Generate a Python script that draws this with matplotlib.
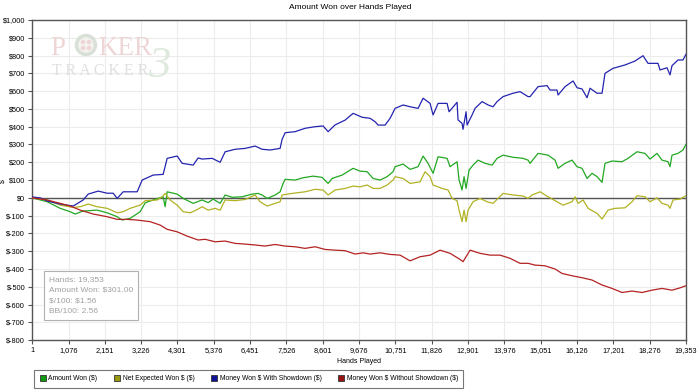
import matplotlib
matplotlib.use("Agg")
import matplotlib.pyplot as plt
import matplotlib.patches as patches
from matplotlib.ticker import FuncFormatter

plt.rcParams["text.parse_math"] = False
plt.rcParams["font.family"] = ["Liberation Sans", "DejaVu Sans"]

# values (hands played, dollars)
blue_hands = [1, 238, 445, 830, 1214, 1510, 1658, 1954, 2220, 2398, 2516, 2694, 3108, 3256,
              3581, 3877, 3996, 4292, 4440, 4765, 4913, 5031, 5327, 5564, 5712, 6008, 6304,
              6600, 6807, 7043, 7339, 7398, 7487, 7783, 8079, 8375, 8612, 8760, 8967, 9263,
              9500, 9766, 10003, 10150, 10239, 10446, 10594, 10742, 10979, 11186, 11423,
              11571, 11778, 11867, 12015, 12281, 12340, 12577, 12606, 12724, 12754, 12843,
              12873, 13021, 13109, 13317, 13494, 13642, 13761, 13938, 14234, 14441, 14678,
              14737, 14974, 15240, 15329, 15536, 15566, 15773, 16010, 16128, 16276, 16424,
              16513, 16720, 16868, 16956, 17193, 17548, 17844, 18081, 18229, 18525, 18584,
              18791, 18880, 18939, 19116, 19264, 19353]
blue_won = [5, 0, -18, -35, -46, -12, 21, 38, 26, 26, -3, 34, 34, 100,
            128, 132, 222, 235, 194, 184, 224, 218, 222, 200, 259, 273, 278,
            291, 273, 269, 278, 329, 366, 372, 391, 400, 404, 372, 410, 437,
            475, 453, 447, 428, 409, 409, 447, 503, 522, 512, 503,
            560, 531, 466, 531, 531, 484, 537, 438, 419, 385, 484,
            409, 466, 503, 541, 522, 512, 541, 569, 588, 597, 569,
            569, 625, 631, 606, 606, 578, 625, 657, 619, 612, 563,
            616, 588, 588, 700, 728, 747, 769, 799, 756, 756, 719,
            731, 691, 743, 775, 775, 807]

green_hands = [1, 445, 830, 1125, 1273, 1510, 1924, 2220, 2516, 2664, 2901, 3197, 3345,
               3581, 3729, 3877, 3936, 3996, 4292, 4469, 4765, 5031, 5209, 5357, 5564,
               5712, 5919, 6215, 6511, 6688, 6807, 6955, 7191, 7339, 7428, 7487, 7783,
               8020, 8316, 8582, 8760, 8878, 9174, 9500, 9707, 9914, 10091, 10298, 10505,
               10683, 10742, 10979, 11186, 11423, 11571, 11719, 11867, 12015, 12281, 12370,
               12577, 12636, 12724, 12784, 12843, 12932, 13050, 13198, 13405, 13613, 13761,
               13938, 14234, 14530, 14678, 14737, 14974, 15270, 15477, 15566, 15773, 15980,
               16128, 16276, 16424, 16572, 16720, 16868, 16956, 17163, 17459, 17637, 17903,
               18140, 18288, 18495, 18643, 18821, 18880, 18939, 19116, 19264, 19353]
green_won = [0, -22, -59, -78, -91, -74, -69, -84, -106, -125, -115, -78, -28,
             -12, -3, 6, -50, 34, 21, -3, -31, -12, -27, -7, -31,
             16, 3, 6, 21, 25, 16, -3, 16, 34, 81, 104, 100,
             113, 122, 115, 81, 109, 128, 166, 150, 147, 109, 100, 119,
             147, 175, 190, 160, 175, 235, 194, 138, 231, 222, 175,
             203, 100, 44, 119, 53, 156, 184, 212, 194, 184, 222,
             240, 228, 222, 212, 194, 250, 240, 212, 166, 194, 212,
             175, 166, 109, 138, 119, 87, 194, 207, 203, 222, 259,
             250, 218, 250, 212, 203, 175, 240, 250, 269, 301]

olive_hands = [1, 445, 830, 1214, 1421, 1658, 1924, 2220, 2516, 2694, 2901, 3197, 3345,
               3700, 3848, 3936, 4084, 4292, 4469, 4676, 4824, 5031, 5209, 5416, 5564,
               5712, 6008, 6304, 6600, 6748, 6955, 7191, 7339, 7398, 7694, 8079, 8375,
               8612, 8760, 8967, 9263, 9500, 9707, 9914, 10091, 10298, 10505, 10683,
               10742, 10979, 11186, 11482, 11630, 11778, 11867, 12133, 12311, 12429,
               12577, 12636, 12724, 12784, 12843, 12902, 13050, 13257, 13465, 13642,
               13790, 13938, 14234, 14530, 14678, 14796, 15033, 15270, 15536, 15714,
               15980, 16069, 16158, 16306, 16454, 16720, 16868, 17045, 17252, 17548,
               17755, 17903, 18140, 18288, 18495, 18643, 18821, 18880, 18969, 19176, 19353]
olive_won = [0, -12, -41, -54, -50, -35, -50, -59, -84, -78, -59, -41, -16,
             -12, 6, 25, -12, -41, -78, -84, -72, -50, -69, -59, -69,
             -12, -16, -9, 16, -22, -46, -31, -22, 16, 25, 34, 48,
             44, 16, 44, 53, 66, 62, 72, 53, 53, 72, 100,
             119, 109, 81, 90, 147, 119, 72, 53, 44, -3,
             -16, -69, -134, -69, -134, -69, -22, -3, -22, -31,
             -3, 25, 16, 10, -3, 16, 34, 6, -22, -41,
             -22, 6, -31, -12, -59, -87, -119, -69, -59, -56,
             -22, 12, 6, -22, 0, -31, -41, -59, -12, -7, 12]

red_hands = [1, 445, 830, 1125, 1421, 1806, 2220, 2516, 2812, 3108, 3493, 3788, 3996,
             4292, 4587, 4913, 5120, 5416, 5712, 6008, 6304, 6600, 6895, 7191, 7487,
             7783, 8079, 8375, 8671, 8967, 9263, 9559, 9796, 10003, 10298, 10594, 10890,
             11186, 11482, 11778, 12074, 12370, 12665, 12754, 12961, 13257, 13553, 13850,
             14145, 14441, 14678, 14885, 15181, 15477, 15684, 15980, 16276, 16572, 16868,
             17163, 17459, 17755, 18051, 18347, 18643, 18939, 19176, 19353]
red_won = [0, -12, -31, -46, -69, -91, -106, -121, -121, -125, -134, -153, -177,
           -191, -215, -237, -233, -247, -243, -256, -260, -265, -271, -262, -271,
           -275, -284, -275, -290, -294, -297, -316, -309, -316, -309, -318, -322,
           -354, -331, -322, -294, -312, -346, -359, -294, -312, -322, -322,
           -340, -368, -368, -378, -382, -400, -425, -438, -449, -462, -490,
           -509, -532, -524, -532, -519, -509, -519, -506, -494]

x_ticks = [1, 1076, 2151, 3226, 4301, 5376, 6451, 7526, 8601, 9676, 10751, 11826,
           12901, 13976, 15051, 16126, 17201, 18276, 19353]
y_ticks = list(range(-800, 1001, 100))

series = [
    ("Amount Won ($)", green_hands, green_won, "#22a822", "#119911"),
    ("Net Expected Won $ ($)", olive_hands, olive_won, "#b2b224", "#999911"),
    ("Money Won $ With Showdown ($)", blue_hands, blue_won, "#2424b0", "#111199"),
    ("Money Won $ Without Showdown ($)", red_hands, red_won, "#b42222", "#991111"),
]

fig = plt.figure(figsize=(7, 3.91), dpi=100)
ax = fig.add_axes([0.046, 0.13, 0.934, 0.819])

for spine in ax.spines.values():
    spine.set_color("#555555")
    spine.set_linewidth(1.0)

ax.set_xlim(x_ticks[0], x_ticks[-1])
ax.set_ylim(-800, 1000)
ax.set_xticks(x_ticks)
ax.set_yticks(y_ticks)
ax.xaxis.set_major_formatter(FuncFormatter(lambda v, p: f"{int(v):,}"))
ax.yaxis.set_major_formatter(FuncFormatter(lambda v, p: f"${int(v):,}" if v >= 0 else f"$-{int(-v):,}"))
ax.tick_params(labelsize=5.3, length=3, width=0.8, color="#555555", pad=2)
ax.grid(True, color="#ececec", linewidth=0.8)
ax.set_axisbelow(True)
ax.axhline(0, color="#555555", linewidth=1.0, zorder=2)

# watermark (figure pixel positions converted to fractions)
W, H = 700.0, 391.0
serif = ["Liberation Serif", "DejaVu Serif"]
fig.text(50 / W, 1 - 55 / H, "P", fontsize=19.5, color="#efd6d6", family=serif, va="baseline")
fig.text(98 / W, 1 - 55 / H, "KER", fontsize=19.5, color="#efd6d6", family=serif, va="baseline")
fig.add_artist(patches.Ellipse((86 / W, 1 - 45 / H), 19 / W, 19 / H, transform=fig.transFigure,
                               facecolor="#f3f3f0", edgecolor="#d8e0d8", linewidth=2.5))
for dx, dy in [(-3, -3), (3, -3), (-3, 3), (3, 3)]:
    fig.add_artist(patches.Ellipse(((86 + dx) / W, 1 - (45 + dy) / H), 4.5 / W, 4.5 / H,
                                   transform=fig.transFigure, facecolor="#efd6d6",
                                   edgecolor="none"))
fig.text(148 / W, 1 - 77 / H, "3", fontsize=32, color="#dfeadf", family=serif,
         va="baseline", style="italic")
fig.text(52 / W, 1 - 75 / H, "T R A C K E R", fontsize=11.5, color="#e0e0e0",
         family=serif, va="baseline")

for label, xs, ys, color, _ in series:
    ax.plot(xs, ys, color=color, linewidth=0.9, zorder=3)

# summary box
ax.text(0.026, 0.20,
        "Hands: 19,353\nAmount Won: $301.00\n$/100: $1.56\nBB/100: 2.56",
        transform=ax.transAxes, fontsize=6, color="#a0a0a0", va="top", ha="left",
        linespacing=1.75, zorder=5,
        bbox=dict(boxstyle="square,pad=0.6", facecolor="white", edgecolor="#b0b0b0",
                  linewidth=0.8))

fig.text(0.5, 0.98, "Amount Won over Hands Played", ha="center", va="center", fontsize=6)
ax.set_xlabel("Hands Played", fontsize=5, labelpad=2.5)
fig.text(0.004, 0.537, "$", fontsize=5, ha="center", va="center", rotation=90)

handles = [patches.Patch(facecolor=c, edgecolor="#333333", linewidth=0.6) for _, _, _, _, c in series]
labels = [s[0] for s in series]
leg = fig.legend(handles, labels, loc="lower left", bbox_to_anchor=(0.044, 0.0), ncol=4,
                 fontsize=4.9, frameon=True, fancybox=False, handlelength=0.9, handleheight=0.9,
                 handletextpad=0.4, columnspacing=2.4, borderpad=0.8)
leg.get_frame().set_edgecolor("#555555")
leg.get_frame().set_linewidth(0.8)

fig.savefig("out.png", dpi=100)
